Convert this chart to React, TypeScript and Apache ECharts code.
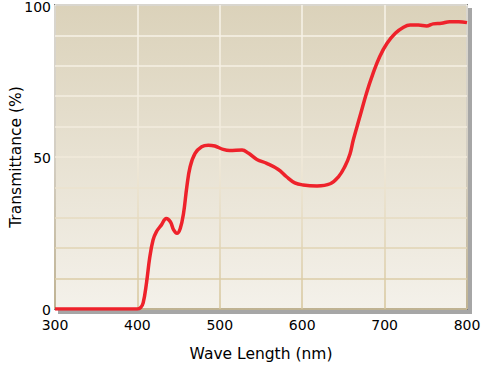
import React, { useEffect, useRef } from "react";
import * as echarts from "echarts";

const wavelengths = [300, 350, 400, 404, 407, 411, 415, 419, 423, 429, 435, 440, 444, 448, 452, 456, 460, 464, 470, 478, 486, 494, 504, 512, 527, 535, 545, 557, 571, 581, 591, 601, 618, 634, 644, 652, 658, 662, 670, 678, 686, 694, 703, 713, 723, 731, 741, 751, 759, 769, 779, 790, 800];
const transmittance = [0, 0, 0, 0.5, 2, 8.5, 17, 22.7, 25.4, 27.6, 29.8, 28.7, 26, 24.9, 26.5, 31.5, 40.2, 46.8, 51.2, 53.4, 53.9, 53.6, 52.5, 52.1, 52.3, 51.2, 49.2, 47.9, 45.9, 43.5, 41.5, 40.8, 40.5, 41.2, 43.5, 47, 51, 55.6, 63.3, 71, 77.5, 83, 87.4, 90.7, 92.7, 93.4, 93.4, 93.1, 93.8, 94, 94.5, 94.5, 94.2];
const yTickLabels = [0, 50, 100];
const xName = "Wave Length (nm)";
const yName = "Transmittance (%)";

export default function App() {
  const ref = useRef<HTMLDivElement>(null);
  useEffect(() => {
    const chart = echarts.init(ref.current!, null, { renderer: "svg" });
    const font = "DejaVu Sans";
    const gridLineColor = new echarts.graphic.LinearGradient(0, 5, 0, 309, [
      { offset: 0, color: "#f8f4ea" },
      { offset: 0.5, color: "#f1eadb" },
      { offset: 1, color: "#d6c59a" },
    ], true);
    const yMax = yTickLabels[yTickLabels.length - 1];
    chart.setOption({
      animation: false,
      grid: {
        left: 55,
        right: 14,
        top: 5,
        bottom: 56,
        outerBoundsMode: "none",
        containLabel: false,
        show: true,
        backgroundColor: new echarts.graphic.LinearGradient(0, 0, 0, 1, [
          { offset: 0, color: "#dbd2ba" },
          { offset: 1, color: "#f4f1ea" },
        ]),
        borderColor: "#7c7c7c",
        borderWidth: 2,
        shadowColor: "rgba(0,0,0,0.35)",
        shadowOffsetX: 4,
        shadowOffsetY: 4,
        shadowBlur: 1,
      },
      xAxis: {
        type: "value",
        min: 300,
        max: 800,
        interval: 100,
        name: xName,
        nameLocation: "middle",
        nameGap: 37,
        nameMoveOverlap: false,
        nameTextStyle: { fontFamily: font, fontSize: 15.5, color: "#000" },
        axisLine: { show: false },
        axisTick: { show: false },
        axisLabel: { fontFamily: font, fontSize: 14, color: "#000", margin: 9 },
        splitLine: { show: true, lineStyle: { color: gridLineColor, width: 1.5 } },
      },
      yAxis: {
        type: "value",
        min: 0,
        max: 100,
        interval: 10,
        name: yName,
        nameLocation: "middle",
        nameGap: 31,
        nameMoveOverlap: false,
        nameTextStyle: { fontFamily: font, fontSize: 15.5, color: "#000" },
        axisLine: { show: false },
        axisTick: { show: false },
        axisLabel: {
          fontFamily: font,
          fontSize: 14,
          color: "#000",
          margin: 4,
          formatter: (v: number) =>
            v === yMax ? `{m|${v}}` : yTickLabels.includes(v) ? `{t|${v}}` : "",
          rich: {
            t: { fontFamily: font, fontSize: 14, color: "#000", padding: [2, 0, 0, 0] },
            m: { fontFamily: font, fontSize: 14, color: "#000", lineHeight: 10, padding: [3, 0, 0, 0] },
          },
        },
        splitLine: { show: true, lineStyle: { color: gridLineColor, width: 1.5 } },
      },
      series: [
        {
          type: "line",
          data: wavelengths.map((w, i) => [w, transmittance[i]]),
          smooth: 0.4,
          showSymbol: false,
          lineStyle: { color: "#ee222b", width: 3.5 },
        },
      ],
    });
    return () => chart.dispose();
  }, []);
  return <div ref={ref} style={{ width: 481, height: 365, position: "absolute", left: 0, top: 0 }} />;
}
